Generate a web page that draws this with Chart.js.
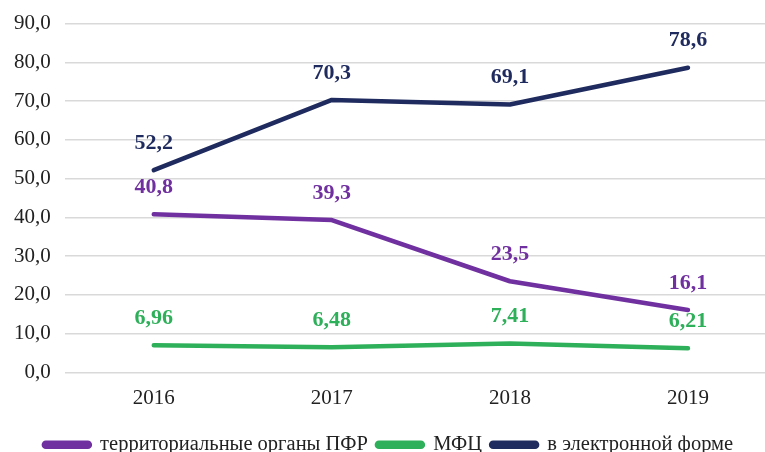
<!DOCTYPE html>
<html>
<head>
<meta charset="utf-8">
<script src="https://cdn.jsdelivr.net/npm/chart.js@4"></script>
<style>
  body { margin: 0; overflow: hidden; background: #fff; }
  #box { width: 802px; height: 455px; margin-top: -3px; }
</style>
</head>
<body>
<div id="box"><canvas id="myChart"></canvas></div>
<script>
// данные графика
const anios = ["2016", "2017", "2018", "2019"];
const pfr = [40.8, 39.3, 23.5, 16.1];
const mfc = [6.96, 6.48, 7.41, 6.21];
const electron = [52.2, 70.3, 69.1, 78.6];
const nombres = ["территориальные органы ПФР", "МФЦ", "в электронной форме"];
const colores = ["#7030a0", "#2eb05a", "#1f2b5e"];

const serif = "'Liberation Serif', 'Times New Roman', serif";

// подписи значений над точками
const etiquetas = {
    id: "etiquetas",
    afterDatasetsDraw(chart) {
        const ctx = chart.ctx;
        ctx.save();
        ctx.font = "bold 22px " + serif;
        ctx.textAlign = "center";
        ctx.textBaseline = "middle";
        chart.data.datasets.forEach((ds, i) => {
            const meta = chart.getDatasetMeta(i);
            ctx.fillStyle = ds.borderColor;
            meta.data.forEach((p, j) => {
                const txt = String(ds.data[j]).replace(".", ",");
                ctx.fillText(txt, p.x, p.y - 27);
            });
        });
        ctx.restore();
    }
};

const serie = (label, data, color) => ({
    label: label,
    data: data,
    borderColor: color,
    backgroundColor: color,
    borderWidth: 4.5,
    borderCapStyle: "round",
    borderJoinStyle: "round",
    pointRadius: 0,
    tension: 0
});

new Chart(document.getElementById("myChart"), {
    type: "line",
    data: {
        labels: anios,
        datasets: [
            serie(nombres[0], pfr, colores[0]),
            serie(nombres[1], mfc, colores[1]),
            serie(nombres[2], electron, colores[2])
        ]
    },
    options: {
        responsive: true,
        maintainAspectRatio: false,
        animation: false,
        layout: { padding: { left: 0, right: 25, top: 10, bottom: -13 } },
        plugins: {
            tooltip: { enabled: false },
            legend: {
                position: "bottom",
                labels: {
                    boxWidth: 46,
                    boxHeight: 4,
                    useBorderRadius: true,
                    borderRadius: 2,
                    color: "#222",
                    padding: 9,
                    font: { family: serif, size: 20.5 }
                }
            }
        },
        scales: {
            x: {
                offset: true,
                grid: { display: false, drawTicks: false },
                border: { display: false },
                ticks: { color: "#222", padding: 14, font: { family: serif, size: 21 } }
            },
            y: {
                min: 0,
                max: 90,
                grid: { color: "#d9d9d9", lineWidth: 1.5, drawTicks: false },
                border: { display: false },
                ticks: {
                    stepSize: 10,
                    color: "#222",
                    padding: 14,
                    font: { family: serif, size: 21 },
                    callback: (v) => v.toFixed(1).replace(".", ",")
                }
            }
        }
    },
    plugins: [etiquetas]
});
</script>
</body>
</html>
